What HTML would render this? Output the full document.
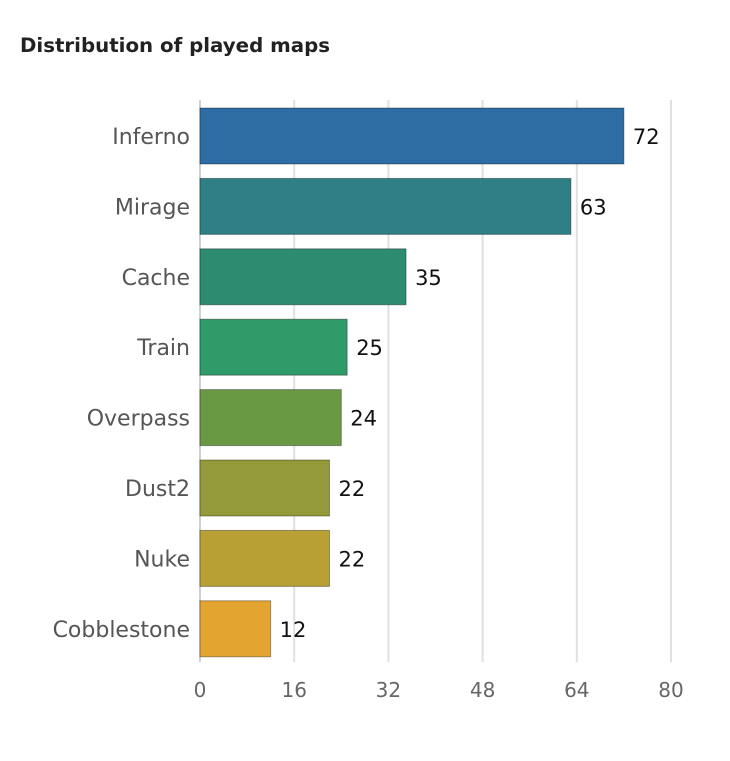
<!DOCTYPE html>
<html><head><meta charset="utf-8"><style>
body{margin:0;background:#fff;width:730px;height:757px;overflow:hidden;font-family:"DejaVu Sans","Liberation Sans",sans-serif}
</style></head><body>
<svg width="730" height="757">
<text x="20" y="52" font-size="19.8" font-weight="bold" fill="#222">Distribution of played maps</text>
<g id="grid"></g><g id="bars"></g><g id="labels"></g>
</svg>
<script>
const categories=["Inferno","Mirage","Cache","Train","Overpass","Dust2","Nuke","Cobblestone"];
const values=[72,63,35,25,24,22,22,12];
const colors=["#2e6da4","#2e7f86","#2d8b70","#2f9b68","#6a9944","#949a3a","#b9a035","#e3a52f"];
const ticks=[0,16,32,48,64,80];
const x0=200,x1=671,xmax=80,top0=108,pitch=70.4,bh=56;
const xs=v=>x0+v/xmax*(x1-x0);
const ys=i=>top0+i*pitch;
const NS="http://www.w3.org/2000/svg";
function mk(t,a,p){const e=document.createElementNS(NS,t);for(const k in a)e.setAttribute(k,a[k]);p.appendChild(e);return e;}
const g=document.getElementById('grid'),b=document.getElementById('bars'),l=document.getElementById('labels');
ticks.forEach(t=>{
 const ln=mk('line',{x1:xs(t),x2:xs(t),y1:100,y2:662,stroke:t===0?'#d0d0d0':'#e0e0e0','stroke-width':2},g);
 
 
 const tx=mk('text',{x:xs(t),y:697,'text-anchor':'middle','font-size':20,fill:'#666'},g);
 tx.textContent=t;
 
 
});
categories.forEach((c,i)=>{
 const y=ys(i);
 const r=mk('rect',{x:x0,y:y,width:xs(values[i])-x0,height:bh,fill:colors[i],stroke:'rgba(0,0,0,0.35)','stroke-width':1},b);
 
 
 const cl=mk('text',{x:190,y:y+bh/2+8,'text-anchor':'end','font-size':22,fill:'#555'},l);
 cl.textContent=c;
 
 
 const vl=mk('text',{x:xs(values[i])+9,y:y+bh/2+8,'font-size':21,fill:'#111'},l);
 vl.textContent=values[i];
 
 
});
</script>
</body></html>
